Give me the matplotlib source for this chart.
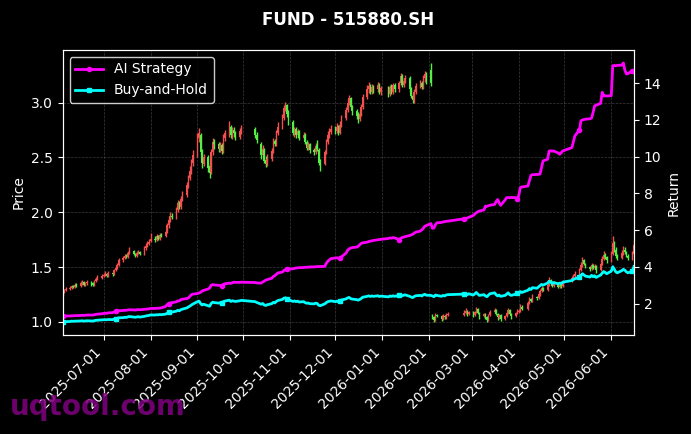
import matplotlib
matplotlib.use('Agg')
import matplotlib.pyplot as plt
import matplotlib.dates as mdates
import numpy as np
import pandas as pd

RED = '#f24f4f'    # up candle
GREEN = '#55ee44'  # down candle

# exchange holidays inside the range (no trading)
holidays = ['2025-10-01', '2025-10-02', '2025-10-03', '2025-10-06', '2025-10-07', '2025-10-08',
            '2026-01-01', '2026-01-02',
            '2026-02-16', '2026-02-17', '2026-02-18', '2026-02-19', '2026-02-20', '2026-02-23',
            '2026-04-06', '2026-05-01', '2026-05-04', '2026-05-05']

open_ = [
    1.25, 1.27, 1.29, 1.30, 1.31, 1.33, 1.32, 1.34, 1.33, 1.35, 1.36, 1.34, 1.35, 1.36, 1.35, 1.34, 1.37, 1.39, 1.40,
    1.42, 1.43, 1.44, 1.42, 1.45, 1.44, 1.47, 1.49, 1.52, 1.56, 1.58, 1.60, 1.59, 1.63, 1.65, 1.62, 1.60, 1.63, 1.64, 1.62, 1.67, 1.69, 1.71,
    1.74, 1.76, 1.75, 1.78, 1.76, 1.79, 1.78, 1.82, 1.88, 1.93, 1.97, 1.96, 2.02, 2.08, 2.05, 2.12, 2.16, 2.25, 2.31, 2.38, 2.45,
    2.52, 2.68, 2.70, 2.56, 2.44, 2.50, 2.42, 2.37, 2.55, 2.64, 2.62, 2.58, 2.61, 2.56, 2.68, 2.72, 2.78, 2.70, 2.75, 2.72, 2.69, 2.74,
    2.76, 2.70, 2.62, 2.52, 2.57, 2.48, 2.44, 2.49, 2.56, 2.65, 2.62, 2.72, 2.78, 2.86, 2.95, 2.98, 2.90,
    2.82, 2.72, 2.76, 2.70, 2.74, 2.68, 2.70, 2.64, 2.59, 2.62, 2.57, 2.55, 2.61, 2.57, 2.46, 2.44, 2.55, 2.64, 2.70, 2.73,
    2.76, 2.74, 2.78, 2.72, 2.80, 2.86, 2.93, 3.00, 3.04, 2.96, 2.92, 2.88, 2.85, 2.90, 2.96, 3.05, 3.12, 3.15, 3.10, 3.14, 3.12, 3.16, 3.10,
    3.13, 3.08, 3.14, 3.10, 3.16, 3.12, 3.18, 3.24, 3.16, 3.20, 3.22, 3.12, 3.06, 3.02, 3.10, 3.15, 3.18, 3.14, 3.22, 3.26,
    3.30, 1.06, 1.04, 1.02, 1.06, 1.05, 1.03, 1.05, 1.04, 1.06, 1.06, 1.08, 1.10, 1.07,
    1.09, 1.06, 1.09, 1.12, 1.08, 1.05, 1.07, 1.04, 1.02, 1.06, 1.09, 1.11, 1.07, 1.04, 1.06, 1.03, 1.05, 1.08, 1.11, 1.07, 1.05, 1.08,
    1.09, 1.10, 1.14, 1.12, 1.17, 1.21, 1.19, 1.23, 1.22, 1.25, 1.28, 1.31, 1.29, 1.34, 1.38, 1.36, 1.33, 1.35, 1.32, 1.34, 1.33,
    1.37, 1.40, 1.42, 1.44, 1.47, 1.52, 1.56, 1.53, 1.50, 1.48, 1.52, 1.49, 1.51, 1.47, 1.53, 1.57, 1.61, 1.59,
    1.56, 1.62, 1.72, 1.66, 1.60, 1.58, 1.63, 1.66, 1.64, 1.60, 1.58, 1.62,
]
high = [
    1.29, 1.30, 1.32, 1.33, 1.34, 1.34, 1.35, 1.35, 1.37, 1.38, 1.37, 1.36, 1.38, 1.37, 1.36, 1.38, 1.41, 1.43, 1.44,
    1.45, 1.46, 1.45, 1.46, 1.46, 1.48, 1.51, 1.54, 1.58, 1.60, 1.62, 1.62, 1.65, 1.68, 1.66, 1.63, 1.65, 1.66, 1.65, 1.69, 1.72, 1.74, 1.76,
    1.81, 1.78, 1.80, 1.79, 1.81, 1.81, 1.84, 1.90, 1.96, 2.00, 1.99, 2.05, 2.11, 2.10, 2.15, 2.19, 2.28, 2.34, 2.42, 2.49, 2.57,
    2.72, 2.77, 2.72, 2.58, 2.53, 2.52, 2.45, 2.58, 2.68, 2.67, 2.64, 2.64, 2.63, 2.71, 2.75, 2.83, 2.80, 2.78, 2.78, 2.74, 2.77, 2.80,
    2.78, 2.73, 2.64, 2.61, 2.59, 2.51, 2.53, 2.59, 2.68, 2.67, 2.75, 2.82, 2.90, 2.98, 3.01, 2.99, 2.93,
    2.84, 2.78, 2.78, 2.76, 2.75, 2.73, 2.72, 2.66, 2.64, 2.63, 2.59, 2.63, 2.66, 2.59, 2.49, 2.57, 2.67, 2.74, 2.77, 2.80,
    2.79, 2.81, 2.80, 2.83, 2.89, 2.96, 3.03, 3.07, 3.05, 2.98, 2.94, 2.91, 2.93, 2.99, 3.08, 3.16, 3.19, 3.17, 3.17, 3.16, 3.19, 3.18, 3.15,
    3.15, 3.16, 3.17, 3.18, 3.18, 3.20, 3.27, 3.26, 3.22, 3.25, 3.24, 3.14, 3.08, 3.12, 3.18, 3.21, 3.20, 3.25, 3.29, 3.28,
    3.36, 1.07, 1.05, 1.08, 1.07, 1.06, 1.07, 1.06, 1.08, 1.09, 1.11, 1.13, 1.11, 1.10,
    1.10, 1.10, 1.14, 1.13, 1.09, 1.08, 1.08, 1.05, 1.07, 1.11, 1.13, 1.12, 1.08, 1.07, 1.07, 1.06, 1.09, 1.13, 1.12, 1.08, 1.09, 1.12,
    1.12, 1.16, 1.15, 1.19, 1.23, 1.22, 1.25, 1.24, 1.27, 1.30, 1.33, 1.32, 1.36, 1.41, 1.39, 1.37, 1.37, 1.36, 1.36, 1.35, 1.38,
    1.42, 1.44, 1.46, 1.49, 1.55, 1.59, 1.57, 1.54, 1.51, 1.54, 1.53, 1.53, 1.52, 1.55, 1.60, 1.65, 1.63, 1.60,
    1.65, 1.78, 1.74, 1.68, 1.62, 1.66, 1.69, 1.68, 1.65, 1.62, 1.65, 1.75,
]
low = [
    1.24, 1.26, 1.28, 1.29, 1.30, 1.31, 1.31, 1.32, 1.32, 1.34, 1.33, 1.33, 1.34, 1.33, 1.33, 1.33, 1.36, 1.38, 1.39,
    1.41, 1.42, 1.41, 1.41, 1.42, 1.43, 1.46, 1.48, 1.51, 1.55, 1.57, 1.58, 1.58, 1.62, 1.61, 1.59, 1.59, 1.62, 1.61, 1.61, 1.66, 1.68, 1.70,
    1.73, 1.73, 1.74, 1.75, 1.75, 1.77, 1.77, 1.81, 1.86, 1.91, 1.94, 1.94, 2.00, 2.03, 2.03, 2.10, 2.14, 2.22, 2.29, 2.35, 2.42,
    2.50, 2.64, 2.52, 2.40, 2.42, 2.37, 2.31, 2.35, 2.52, 2.58, 2.55, 2.55, 2.53, 2.54, 2.65, 2.69, 2.68, 2.67, 2.69, 2.66, 2.67, 2.71,
    2.68, 2.63, 2.49, 2.50, 2.45, 2.41, 2.42, 2.47, 2.54, 2.60, 2.60, 2.70, 2.76, 2.84, 2.92, 2.87, 2.80,
    2.70, 2.69, 2.68, 2.68, 2.66, 2.66, 2.62, 2.57, 2.57, 2.54, 2.52, 2.53, 2.56, 2.43, 2.38, 2.43, 2.53, 2.62, 2.68, 2.71,
    2.71, 2.72, 2.70, 2.71, 2.78, 2.84, 2.91, 2.98, 2.94, 2.89, 2.85, 2.81, 2.83, 2.88, 2.94, 3.03, 3.09, 3.08, 3.08, 3.09, 3.10, 3.08, 3.07,
    3.05, 3.06, 3.08, 3.08, 3.10, 3.10, 3.16, 3.14, 3.14, 3.18, 3.10, 3.04, 3.00, 3.00, 3.08, 3.13, 3.12, 3.12, 3.19, 3.17,
    3.15, 1.03, 1.00, 1.01, 1.04, 1.01, 1.02, 1.03, 1.03, 1.05, 1.05, 1.07, 1.05, 1.06,
    1.04, 1.05, 1.08, 1.07, 1.03, 1.04, 1.03, 1.00, 1.01, 1.05, 1.08, 1.06, 1.02, 1.03, 1.01, 1.02, 1.04, 1.07, 1.06, 1.03, 1.04, 1.07,
    1.08, 1.09, 1.11, 1.11, 1.16, 1.18, 1.18, 1.20, 1.21, 1.24, 1.27, 1.28, 1.28, 1.33, 1.35, 1.32, 1.32, 1.31, 1.31, 1.31, 1.32,
    1.36, 1.39, 1.41, 1.43, 1.46, 1.50, 1.52, 1.49, 1.46, 1.47, 1.48, 1.48, 1.45, 1.46, 1.52, 1.56, 1.57, 1.54,
    1.55, 1.61, 1.64, 1.58, 1.56, 1.57, 1.61, 1.62, 1.59, 1.56, 1.56, 1.60,
]
close = [
    1.27, 1.29, 1.30, 1.31, 1.33, 1.32, 1.34, 1.33, 1.35, 1.36, 1.34, 1.35, 1.36, 1.35, 1.34, 1.37, 1.39, 1.40, 1.42,
    1.43, 1.44, 1.42, 1.45, 1.44, 1.47, 1.49, 1.52, 1.56, 1.58, 1.60, 1.59, 1.63, 1.65, 1.62, 1.60, 1.63, 1.64, 1.62, 1.67, 1.69, 1.71, 1.73,
    1.76, 1.75, 1.78, 1.76, 1.79, 1.78, 1.82, 1.88, 1.93, 1.97, 1.96, 2.02, 2.08, 2.05, 2.12, 2.16, 2.25, 2.31, 2.38, 2.45, 2.52,
    2.68, 2.72, 2.55, 2.45, 2.50, 2.40, 2.36, 2.55, 2.64, 2.62, 2.58, 2.61, 2.56, 2.68, 2.72, 2.78, 2.70, 2.75, 2.72, 2.69, 2.74, 2.77,
    2.70, 2.66, 2.52, 2.58, 2.47, 2.44, 2.49, 2.56, 2.65, 2.62, 2.72, 2.78, 2.86, 2.95, 2.98, 2.90, 2.84,
    2.72, 2.76, 2.70, 2.74, 2.68, 2.70, 2.64, 2.59, 2.62, 2.57, 2.55, 2.60, 2.58, 2.45, 2.42, 2.55, 2.64, 2.70, 2.73, 2.76,
    2.74, 2.78, 2.72, 2.80, 2.86, 2.93, 3.00, 3.04, 2.96, 2.92, 2.88, 2.85, 2.90, 2.96, 3.05, 3.12, 3.15, 3.10, 3.14, 3.12, 3.16, 3.10, 3.13,
    3.08, 3.14, 3.10, 3.16, 3.12, 3.18, 3.24, 3.16, 3.20, 3.22, 3.12, 3.06, 3.02, 3.10, 3.15, 3.18, 3.14, 3.22, 3.26, 3.20,
    3.18, 1.04, 1.02, 1.06, 1.05, 1.03, 1.05, 1.04, 1.06, 1.07, 1.08, 1.10, 1.07, 1.09,
    1.06, 1.09, 1.12, 1.08, 1.05, 1.07, 1.04, 1.02, 1.06, 1.09, 1.11, 1.07, 1.04, 1.06, 1.03, 1.05, 1.08, 1.11, 1.07, 1.05, 1.08, 1.10,
    1.10, 1.14, 1.12, 1.17, 1.21, 1.19, 1.23, 1.22, 1.25, 1.28, 1.31, 1.29, 1.34, 1.38, 1.36, 1.33, 1.35, 1.32, 1.34, 1.33, 1.36,
    1.40, 1.42, 1.44, 1.47, 1.52, 1.56, 1.53, 1.50, 1.48, 1.52, 1.49, 1.51, 1.47, 1.53, 1.57, 1.61, 1.59, 1.56,
    1.62, 1.72, 1.66, 1.60, 1.58, 1.63, 1.66, 1.64, 1.60, 1.58, 1.62, 1.70,
]

ai_strategy = [
    1.31, 1.32, 1.33, 1.33, 1.34, 1.34, 1.35, 1.35, 1.36, 1.37, 1.36, 1.37, 1.38, 1.38, 1.38, 1.40, 1.42, 1.43, 1.45,
    1.47, 1.48, 1.47, 1.50, 1.51, 1.55, 1.58, 1.60, 1.62, 1.63, 1.64, 1.64, 1.66, 1.67, 1.66, 1.65, 1.67, 1.68, 1.67, 1.69, 1.70, 1.71, 1.72,
    1.74, 1.74, 1.75, 1.75, 1.76, 1.77, 1.85, 1.95, 2.00, 2.04, 2.05, 2.10, 2.15, 2.15, 2.22, 2.24, 2.28, 2.31, 2.40, 2.49, 2.52,
    2.55, 2.58, 2.62, 2.68, 2.72, 2.80, 2.85, 3.00, 3.04, 3.02, 3.00, 2.99, 2.97, 3.05, 3.08, 3.12, 3.10, 3.14, 3.17, 3.16, 3.16, 3.17,
    3.15, 3.13, 3.12, 3.18, 3.22, 3.28, 3.31, 3.38, 3.48, 3.52, 3.60, 3.67, 3.72, 3.80, 3.85, 3.86, 3.88,
    3.90, 3.92, 3.94, 3.95, 3.96, 3.97, 3.98, 3.98, 3.99, 4.00, 4.00, 4.01, 4.02, 4.02, 4.02, 4.03, 4.20, 4.31, 4.38, 4.45,
    4.49, 4.50, 4.46, 4.48, 4.55, 4.75, 4.90, 4.98, 5.02, 5.05, 5.08, 5.12, 5.20, 5.28, 5.31, 5.35, 5.38, 5.40, 5.42, 5.44, 5.48, 5.49, 5.50,
    5.55, 5.58, 5.56, 5.60, 5.58, 5.49, 5.55, 5.60, 5.62, 5.65, 5.71, 5.74, 5.78, 5.84, 5.89, 5.95, 6.02, 6.10, 6.22, 6.25,
    6.36, 6.10, 6.12, 6.30, 6.40, 6.42, 6.45, 6.46, 6.48, 6.49, 6.62, 6.64, 6.66, 6.70,
    6.80, 6.88, 6.95, 7.00, 7.04, 7.10, 7.31, 7.30, 7.33, 7.36, 7.40, 7.55, 7.67, 7.50, 7.35, 7.65, 7.77, 7.78, 7.76, 7.78, 7.77, 7.68,
    7.90, 8.31, 8.35, 8.40, 8.70, 8.98, 9.02, 9.03, 9.04, 9.05, 9.40, 9.77, 9.86, 10.31, 10.32, 10.30, 10.31, 10.20, 10.13, 10.22, 10.31,
    10.49, 10.80, 11.13, 11.45, 11.95, 12.00, 12.02, 12.04, 12.06, 12.10, 12.40, 12.76, 12.80, 12.90, 13.50, 13.30, 13.32, 13.30,
    13.32, 14.95, 14.96, 14.95, 14.97, 14.98, 15.10, 14.70, 14.50, 14.52, 14.67, 14.70,
]
buy_hold = [
    1.00, 1.02, 1.02, 1.03, 1.05, 1.04, 1.05, 1.05, 1.06, 1.07, 1.05, 1.06, 1.07, 1.06, 1.05, 1.08, 1.09, 1.10, 1.12,
    1.13, 1.13, 1.12, 1.14, 1.13, 1.16, 1.17, 1.20, 1.23, 1.24, 1.26, 1.25, 1.28, 1.30, 1.27, 1.26, 1.28, 1.29, 1.27, 1.31, 1.33, 1.35, 1.36,
    1.39, 1.38, 1.40, 1.39, 1.41, 1.40, 1.43, 1.48, 1.52, 1.55, 1.54, 1.59, 1.64, 1.61, 1.67, 1.70, 1.77, 1.82, 1.87, 1.93, 1.98,
    2.11, 2.14, 2.01, 1.93, 1.97, 1.89, 1.86, 2.01, 2.08, 2.06, 2.03, 2.05, 2.01, 2.11, 2.14, 2.19, 2.12, 2.16, 2.14, 2.12, 2.16, 2.18,
    2.11, 2.07, 1.97, 2.01, 1.93, 1.90, 1.94, 2.00, 2.07, 2.04, 2.12, 2.17, 2.23, 2.30, 2.32, 2.26, 2.22,
    2.12, 2.15, 2.11, 2.14, 2.09, 2.11, 2.06, 2.02, 2.04, 2.00, 1.99, 2.03, 2.01, 1.91, 1.89, 1.99, 2.06, 2.11, 2.13, 2.15,
    2.11, 2.14, 2.09, 2.16, 2.20, 2.26, 2.31, 2.34, 2.28, 2.25, 2.22, 2.19, 2.23, 2.28, 2.35, 2.40, 2.43, 2.39, 2.42, 2.40, 2.43, 2.39, 2.41,
    2.37, 2.42, 2.39, 2.43, 2.40, 2.45, 2.49, 2.43, 2.46, 2.48, 2.40, 2.36, 2.33, 2.39, 2.43, 2.45, 2.42, 2.48, 2.51, 2.46,
    2.45, 2.42, 2.38, 2.47, 2.45, 2.40, 2.45, 2.42, 2.47, 2.49, 2.52, 2.56, 2.49, 2.54,
    2.47, 2.54, 2.61, 2.52, 2.45, 2.49, 2.42, 2.38, 2.47, 2.54, 2.59, 2.49, 2.42, 2.47, 2.40, 2.45, 2.52, 2.59, 2.49, 2.45, 2.52, 2.56,
    2.56, 2.66, 2.61, 2.73, 2.82, 2.77, 2.87, 2.84, 2.91, 2.98, 3.05, 3.01, 3.12, 3.22, 3.17, 3.10, 3.15, 3.08, 3.12, 3.10, 3.17,
    3.26, 3.31, 3.36, 3.43, 3.54, 3.63, 3.56, 3.50, 3.45, 3.54, 3.47, 3.52, 3.43, 3.56, 3.66, 3.75, 3.70, 3.63,
    3.77, 4.01, 3.87, 3.73, 3.68, 3.80, 3.87, 3.82, 3.73, 3.68, 3.77, 4.02,
]

dates = pd.bdate_range('2025-06-04', '2026-06-16')
dates = dates[~dates.isin(pd.to_datetime(holidays))]
n = min(len(dates), len(close))
dates = dates[:n]

o = np.array(open_[:n])
h = np.array(high[:n])
l = np.array(low[:n])
c = np.array(close[:n])
x = mdates.date2num(dates)
colors = np.where(c >= o, RED, GREEN)

fig = plt.figure(figsize=(6.91, 4.34), dpi=100, facecolor='black')
ax = fig.add_axes([0.0906, 0.2281, 0.8269, 0.6567])
ax.set_facecolor('black')

# candlesticks
ax.vlines(x, l, h, colors=colors, linewidth=1.0, zorder=2)
ax.bar(x, np.maximum(np.abs(c - o), 0.008), bottom=np.minimum(o, c), width=1.0,
       color=colors, linewidth=0, zorder=2)

ax.set_xlim(x[0], x[-1])
ax.set_ylim(0.88, 3.48)
ax.set_ylabel('Price', color='white', fontsize=10)
ax.grid(True, color='gray', linestyle='--', linewidth=0.5, alpha=0.45)
ax.xaxis.set_major_locator(mdates.MonthLocator())
ax.xaxis.set_major_formatter(mdates.DateFormatter('%Y-%m-%d'))
ax.tick_params(colors='white', labelsize=10)
plt.setp(ax.get_xticklabels(), rotation=45, ha='right')

ax2 = ax.twinx()
ax2.plot(dates, ai_strategy[:n], color='#ff00ff', linewidth=2, marker='o', markersize=3,
         markevery=25, label='AI Strategy')
ax2.plot(dates, buy_hold[:n], color='#00ffff', linewidth=2, marker='s', markersize=3,
         markevery=25, label='Buy-and-Hold')
ax2.set_ylabel('Return', color='white', fontsize=10)
ax2.tick_params(colors='white', labelsize=10)

for a in (ax, ax2):
    for s in a.spines.values():
        s.set_color('white')

leg = ax2.legend(loc='upper left', fontsize=10, facecolor='black', edgecolor='white',
                 labelcolor='white', framealpha=0.8)

ax.set_title('FUND - 515880.SH', color='white', fontsize=12, fontweight='bold', pad=18)

fig.text(10 / 691, 1 - 415 / 434, 'uqtool.com', fontsize=20, fontweight='bold',
         color='purple', alpha=0.85, ha='left', va='baseline', zorder=10)

fig.savefig('out.png', dpi=100, facecolor='black')
